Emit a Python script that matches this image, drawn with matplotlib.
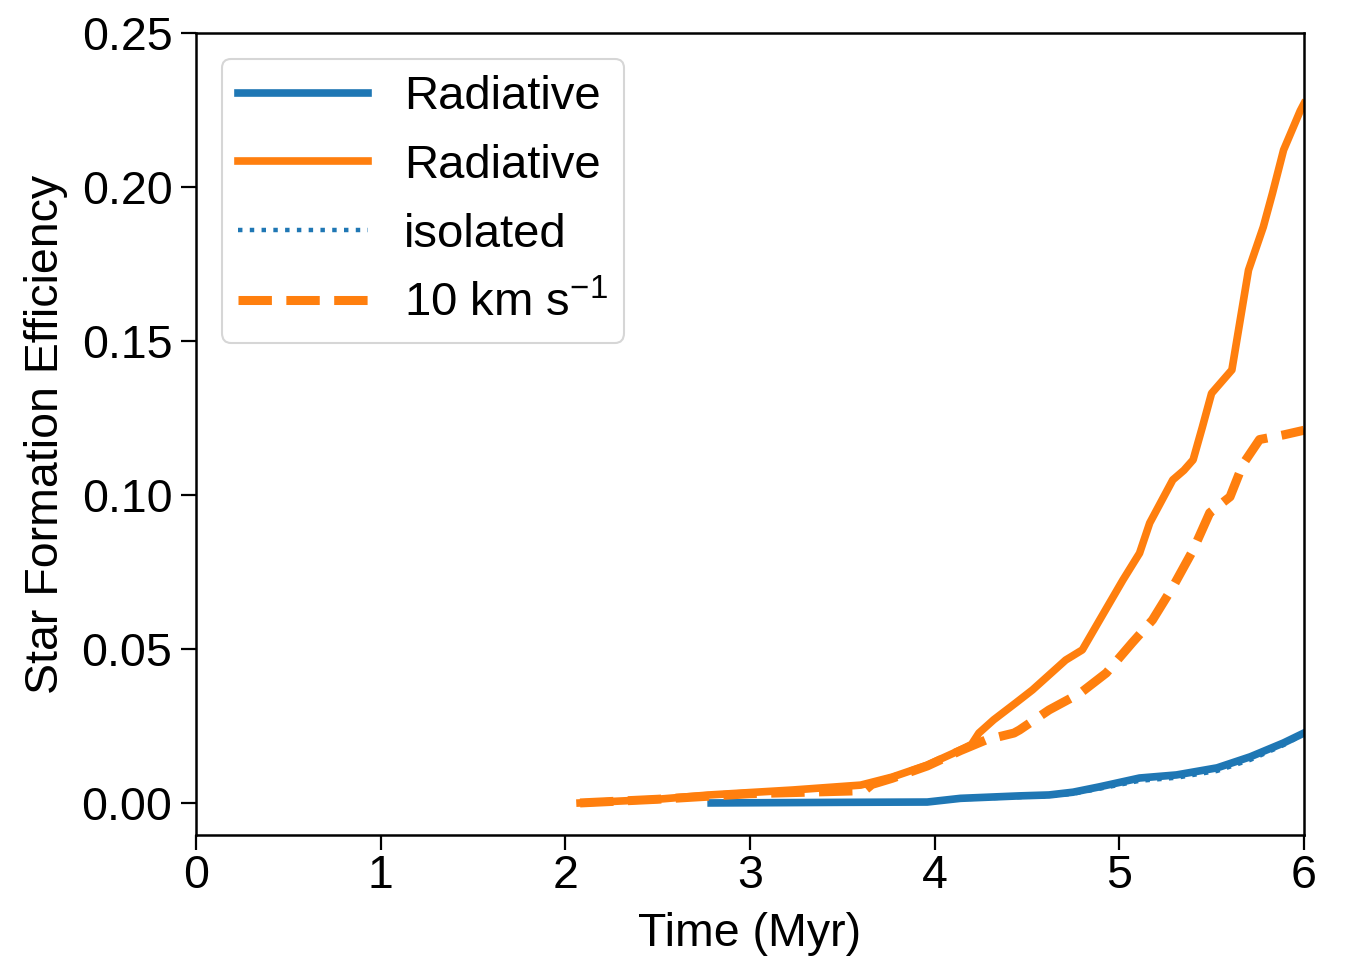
import matplotlib
matplotlib.use("Agg")
import matplotlib.pyplot as plt
import numpy as np

plt.rcParams['font.family'] = ['Liberation Sans', 'DejaVu Sans']
plt.rcParams['mathtext.fontset'] = 'custom'
plt.rcParams['mathtext.rm'] = 'Liberation Sans'

# Radiative, 10 km/s (orange solid)
t_orange = [2.08, 2.5, 2.78, 3.23, 3.6, 3.77, 3.96, 4.14, 4.2, 4.24, 4.32, 4.44, 4.53, 4.71, 4.80, 4.89, 5.02, 5.11, 5.165, 5.29, 5.35, 5.40, 5.45, 5.50, 5.61, 5.70, 5.78, 5.83, 5.89, 5.98, 6.0]
sfe_orange = [0.000, 0.0012, 0.0026, 0.0042, 0.0058, 0.0084, 0.0123, 0.0172, 0.019, 0.0227, 0.027, 0.0325, 0.0367, 0.0464, 0.0497, 0.059, 0.0724, 0.0811, 0.0909, 0.1049, 0.108, 0.1114, 0.122, 0.133, 0.1406, 0.173, 0.187, 0.198, 0.212, 0.2247, 0.227]

# Radiative isolated (blue solid)
t_blue = [2.79, 3.5, 3.96, 4.14, 4.46, 4.62, 4.75, 4.89, 5.11, 5.31, 5.53, 5.71, 5.89, 6.0]
sfe_blue = [0.000, 0.0002, 0.0003, 0.0015, 0.0023, 0.0026, 0.0035, 0.0052, 0.0081, 0.0091, 0.0114, 0.0150, 0.0195, 0.0227]

# isolated (blue dotted)
t_blue_d = [2.79, 3.5, 3.96, 4.14, 4.46, 4.62, 4.75, 4.89, 5.11, 5.31, 5.53, 5.71, 5.89, 6.0]
sfe_blue_d = [0.000, 0.0001, 0.0002, 0.0012, 0.0019, 0.0022, 0.0030, 0.0046, 0.0072, 0.0082, 0.0104, 0.0140, 0.0188, 0.0224]

# 10 km/s (orange dashed)
t_orange_d = [2.08, 2.5, 3.0, 3.5, 3.62, 3.66, 3.77, 3.96, 4.14, 4.28, 4.43, 4.46, 4.62, 4.79, 4.93, 5.07, 5.18, 5.29, 5.40, 5.49, 5.60, 5.67, 5.76, 5.89, 6.0]
sfe_orange_d = [0.000, 0.0012, 0.003, 0.0038, 0.004, 0.006, 0.008, 0.012, 0.017, 0.0205, 0.0227, 0.0237, 0.0302, 0.0357, 0.0422, 0.052, 0.0594, 0.0701, 0.0821, 0.0942, 0.0994, 0.110, 0.118, 0.1195, 0.121]

labels = ["Radiative", "Radiative", "isolated", r"10 km s$^{-1}$"]

fig = plt.figure(figsize=(13.47, 9.58), dpi=100)
ax = fig.add_axes([0.1455, 0.1284, 0.8225, 0.8372])

c_blue = "#1f77b4"
c_orange = "#ff7f0e"
ax.plot(t_blue, sfe_blue, color=c_blue, lw=5.5, label=labels[0])
ax.plot(t_orange, sfe_orange, color=c_orange, lw=5.5, label=labels[1])
ax.plot(t_blue_d, sfe_blue_d, color=c_blue, lw=3.2, ls=':', label=labels[2])
ax.plot(t_orange_d, sfe_orange_d, color=c_orange, lw=6.5, ls='--', label=labels[3])

ax.set_xlim(0, 6)
ax.set_ylim(-0.0104, 0.25)
ax.set_xticks([0, 1, 2, 3, 4, 5, 6])
ax.set_yticks([0.0, 0.05, 0.10, 0.15, 0.20, 0.25])
ax.set_yticklabels(["0.00", "0.05", "0.10", "0.15", "0.20", "0.25"])
ax.tick_params(labelsize=33.5, length=11, width=1.6)
ax.tick_params(axis='x', pad=3)
ax.tick_params(axis='y', pad=6)
for s in ax.spines.values():
    s.set_linewidth(1.8)
ax.set_xlabel("Time (Myr)", fontsize=33.5, labelpad=10)
ax.set_ylabel("Star Formation Efficiency", fontsize=33.5, labelpad=10)

leg = ax.legend(loc='upper left', fontsize=34, handlelength=2.75, borderpad=0.35,
                labelspacing=0.52, handletextpad=0.75, borderaxespad=0.55,
                fancybox=True, framealpha=0.8)
leg.get_frame().set_linewidth(1.5)

fig.savefig("out.png", dpi=100)
